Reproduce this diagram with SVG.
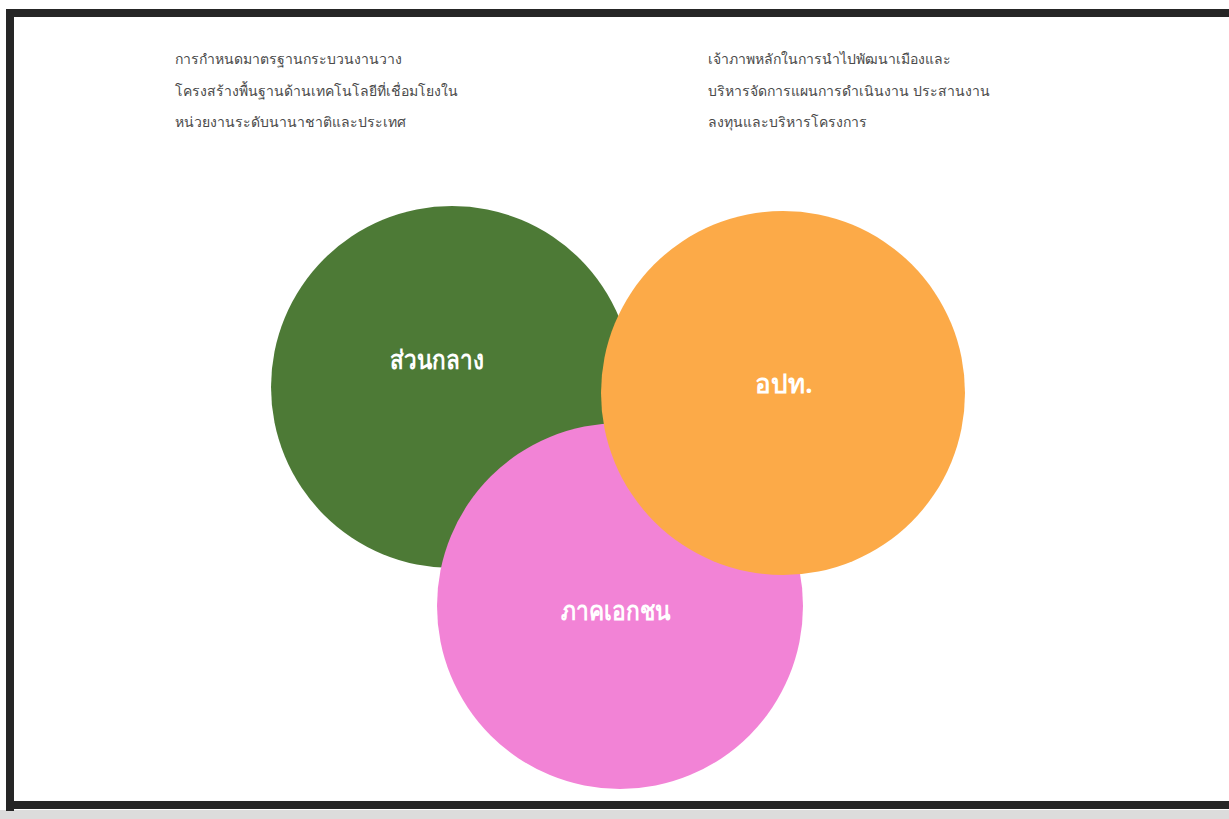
<svg xmlns="http://www.w3.org/2000/svg" width="1229" height="819" viewBox="0 0 1229 819">
<style>
.note{font-family:"Noto Sans","Liberation Sans","DejaVu Sans",sans-serif;font-size:14px;fill:#4a4a4a}
.lbl{font-family:"Noto Sans","Liberation Sans","DejaVu Sans",sans-serif;font-size:26px;font-weight:bold;fill:#ffffff;text-anchor:middle}
</style>
<rect x="0" y="0" width="1229" height="819" fill="#ffffff"/>
<rect x="0" y="810" width="1229" height="9" fill="#dcdcdc"/>
<path d="M10 811 V13 H1229" fill="none" stroke="#262626" stroke-width="8"/>
<path d="M6 805 H1229" fill="none" stroke="#262626" stroke-width="8"/>
<g id="note-left">
<text class="note" x="175" y="64">การกำหนดมาตรฐานกระบวนงานวาง</text>
<text class="note" x="175" y="96">โครงสร้างพื้นฐานด้านเทคโนโลยีที่เชื่อมโยงใน</text>
<text class="note" x="175" y="127">หน่วยงานระดับนานาชาติและประเทศ</text>
</g>
<g id="note-right">
<text class="note" x="708" y="64">เจ้าภาพหลักในการนำไปพัฒนาเมืองและ</text>
<text class="note" x="708" y="96">บริหารจัดการแผนการดำเนินงาน ประสานงาน</text>
<text class="note" x="708" y="127">ลงทุนและบริหารโครงการ</text>
</g>
<g id="central">
<circle cx="452" cy="387" r="181" fill="#4d7a36"/>
<text class="lbl" x="437" y="369" textLength="94" lengthAdjust="spacingAndGlyphs">ส่วนกลาง</text>
</g>
<g id="private">
<circle cx="620" cy="606" r="183" fill="#f283d6"/>
<text class="lbl" x="616" y="620" textLength="110" lengthAdjust="spacingAndGlyphs">ภาคเอกชน</text>
</g>
<g id="local">
<circle cx="783" cy="393" r="182" fill="#fcaa48"/>
<text class="lbl" x="784" y="393">อปท.</text>
</g>
<g id="connectors"></g>
</svg>
